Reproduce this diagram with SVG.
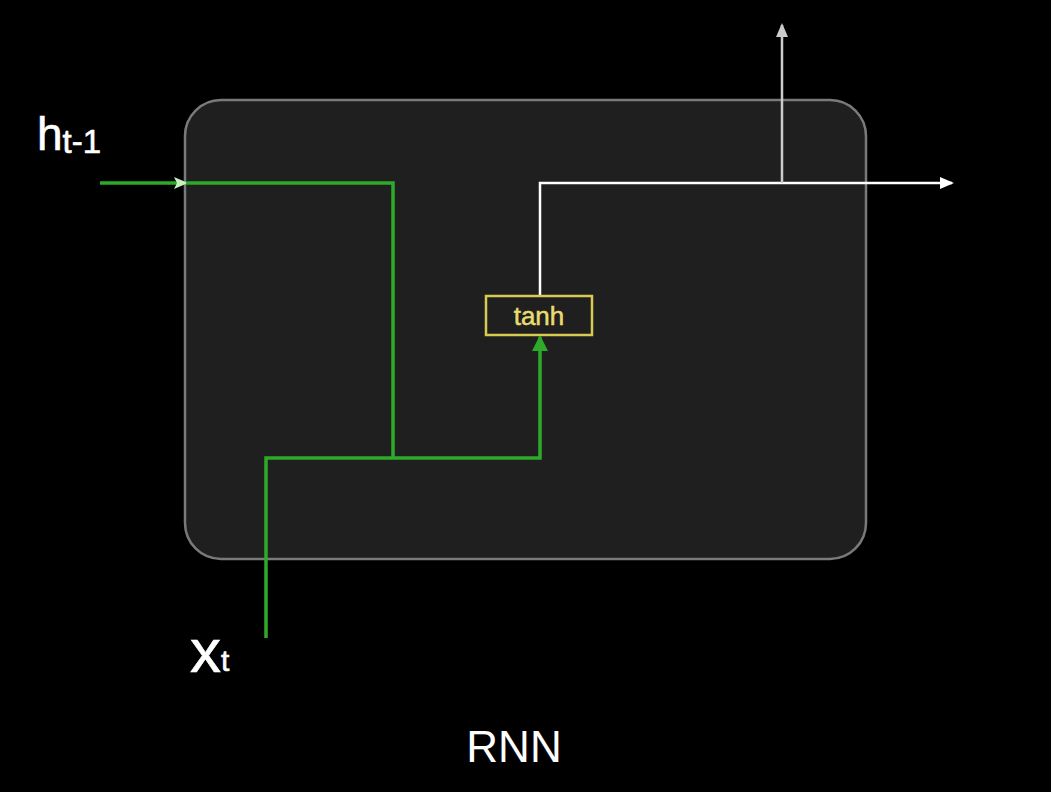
<svg xmlns="http://www.w3.org/2000/svg" width="1051" height="792" viewBox="0 0 1051 792">
<style>
.lbl{font-family:"Liberation Sans",Arial,sans-serif;fill:#ffffff}
.g{fill:none;stroke:#2eaa2a;stroke-width:3.5}
.w{fill:none;stroke:#ffffff;stroke-width:2.5}
</style>
<defs>
<marker id="ag" markerWidth="16" markerHeight="16" refX="14" refY="8" orient="auto" markerUnits="userSpaceOnUse" viewBox="0 0 16 16"><path d="M0,0 L16,8 L0,16 Z" fill="#2eaa2a"/></marker>
<marker id="agw" markerWidth="14" markerHeight="12" refX="12" refY="6" orient="auto" markerUnits="userSpaceOnUse" viewBox="0 0 14 12"><path d="M0,0 L14,6 L0,12 L3,6 Z" fill="#c8f0c0"/></marker>
<marker id="aw" markerWidth="14" markerHeight="12" refX="12" refY="6" orient="auto" markerUnits="userSpaceOnUse" viewBox="0 0 14 12"><path d="M0,0 L14,6 L0,12 Z" fill="#ffffff"/></marker>
<marker id="agr" markerWidth="14" markerHeight="12" refX="12" refY="6" orient="auto" markerUnits="userSpaceOnUse" viewBox="0 0 14 12"><path d="M0,0 L14,6 L0,12 Z" fill="#cccccc"/></marker>
</defs>
<rect width="1051" height="792" fill="#000000"/>
<g id="cell"><rect x="185" y="100" width="681" height="459" rx="36" fill="#1f1f1f" stroke="#7a7a7a" stroke-width="2.5"/></g>
<g id="connectors">
<line class="g" x1="100" y1="183" x2="186" y2="183" marker-end="url(#agw)"/>
<polyline class="g" points="186,183 393,183 393,458"/>
<polyline class="g" points="266,638 266,458 540,458 540,337" marker-end="url(#ag)"/>
<polyline class="w" points="540,296 540,183 952,183" marker-end="url(#aw)"/>
<line x1="782" y1="183" x2="782" y2="25" stroke="#cccccc" stroke-width="2.5" marker-end="url(#agr)"/>
</g>
<g id="tanh"><rect x="486" y="296" width="106" height="39" fill="#1f1f1f" stroke="#d8cc50" stroke-width="2.5"/><text x="539" y="325" text-anchor="middle" font-family="Liberation Sans, Arial, sans-serif" font-size="26" fill="#e8dc70" stroke="#e8dc70" stroke-width="0.5">tanh</text></g>
<g id="h_label"><text class="lbl" x="37" y="150" font-size="46" stroke="#fff" stroke-width="0.6">h<tspan font-size="33" dy="3">t-1</tspan></text></g>
<g id="x_label"><text class="lbl" x="190" y="672" font-size="62" stroke="#fff" stroke-width="0.6">x<tspan font-size="30" dy="-1">t</tspan></text></g>
<g id="title"><text class="lbl" x="514" y="762" font-size="44" text-anchor="middle">RNN</text></g>
</svg>
